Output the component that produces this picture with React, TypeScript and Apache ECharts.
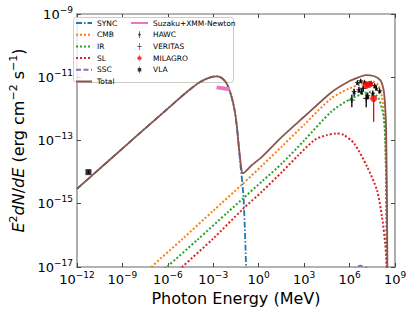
import React, { useEffect, useRef } from 'react';
import * as echarts from 'echarts';

// All curve points are [log10(E / MeV), log10(E^2 dN/dE / erg cm^-2 s^-1)]
const syncCurve: number[][] = [
  [-12, -14.53], [-10, -13.68], [-8, -12.83], [-6, -11.99], [-5, -11.57], [-4.5, -11.37],
  [-4, -11.19], [-3.5, -11.06], [-3.0, -10.98], [-2.7, -10.97], [-2.4, -11.04], [-2.13, -11.18],
  [-1.8, -11.6], [-1.59, -12.04], [-1.44, -12.56], [-1.31, -13.2], [-1.2, -13.8], [-1.08, -14.35],
  [-1.0, -14.8], [-0.93, -15.6], [-0.87, -16.4], [-0.82, -17.3],
];
const cmbCurve: number[][] = [
  [-8, -17.45], [-7.09, -17.0], [-5, -16.1], [-3, -15.22], [-1.05, -14.37], [0.25, -13.78],
  [1.545, -13.18], [3, -12.5], [4.79, -11.67], [6, -11.35], [7, -11.18], [7.59, -11.14],
  [7.9, -11.25], [8.14, -11.61], [8.3, -12.3], [8.38, -13.3], [8.43, -14.8], [8.47, -17.3],
];
const irCurve: number[][] = [
  [-7, -17.4], [-6.06, -17.0], [-4, -16.12], [-2, -15.25], [-1.05, -14.84], [0.25, -14.28],
  [1.545, -13.72], [3, -13.0], [4.79, -12.09], [6, -11.7], [6.95, -11.51], [7.38, -11.46],
  [7.92, -11.67], [8.25, -12.25], [8.36, -13.0], [8.42, -14.5], [8.46, -17.3],
];
const slCurve: number[][] = [
  [-6, -17.45], [-5.05, -17.0], [-3, -16.1], [-1.05, -15.17], [0.25, -14.6], [1.545, -13.99],
  [2.63, -13.46], [3.7, -12.98], [4.5, -12.83], [5.1, -12.78], [5.6, -12.82], [6.3, -13.09],
  [7.16, -13.83], [7.81, -14.57], [8.14, -15.41], [8.35, -16.25], [8.46, -17.0], [8.5, -17.5],
];
const sscCurve: number[][] = [
  [4.5, -18.3], [5.5, -17.5], [6.2, -17.1], [6.7, -16.96], [7.1, -17.02], [7.6, -17.4], [8.2, -18.3],
];
const totalCurve: number[][] = [
  [-12, -14.53], [-10, -13.68], [-8, -12.83], [-6, -11.99], [-5, -11.57], [-4.5, -11.37],
  [-4, -11.19], [-3.5, -11.06], [-3.0, -10.98], [-2.7, -10.97], [-2.4, -11.04], [-2.13, -11.18],
  [-1.8, -11.6], [-1.59, -12.04], [-1.44, -12.56], [-1.31, -13.2], [-1.16, -13.83], [-1.05, -14.04],
  [-0.5, -13.8], [0.25, -13.5], [1.545, -12.88], [3, -12.25], [4.79, -11.48], [6, -11.12],
  [6.6, -11.0], [7.05, -10.93], [7.6, -10.96], [8.03, -11.09], [8.2, -11.3], [8.28, -11.51],
  [8.36, -12.0], [8.41, -12.56], [8.44, -13.62], [8.47, -15.0], [8.5, -17.3],
];
const suzakuXmm: number[][] = [[-2.78, -11.32], [-1.91, -11.38]];

// Points: [log10 E, log10 flux, log10 lower, log10 upper]
const hawcPoints: number[][] = [
  [6.52, -11.17, -11.24, -11.1], [6.73, -11.12, -11.18, -11.06], [6.99, -11.16, -11.22, -11.1],
  [7.42, -11.19, -11.25, -11.13], [7.66, -11.27, -11.34, -11.2], [7.77, -11.35, -11.42, -11.28],
  [7.98, -11.43, -11.52, -11.35], [6.3, -11.46, -11.62, -11.36], [6.62, -11.4, -11.5, -11.3],
  [6.79, -11.46, -11.56, -11.37], [7.2, -11.59, -11.7, -11.48], [7.53, -11.51, -11.62, -11.42],
];
const veritasPoints: number[][] = [
  [6.15, -11.72, -11.95, -11.55], [7.1, -11.67, -11.95, -11.52], [6.9, -11.35, -11.45, -11.27],
];
const milagroPoints: number[][] = [
  [7.12, -11.25, -11.32, -11.18], [7.33, -11.22, -11.29, -11.15], [7.59, -11.67, -12.41, -11.55],
];
const vlaPoints: number[][] = [[-11.24, -14.0, -14.05, -13.95]];

const FONT = 'DejaVu Sans';
const toXY = (pts: number[][]) => pts.map((p) => [Math.pow(10, p[0]), Math.pow(10, p[1])]);
const toErr = (pts: number[][]) => pts.map((p) => [Math.pow(10, p[0]), Math.pow(10, p[2]), Math.pow(10, p[3])]);

function expLabel(v: number) {
  const e = Math.round(Math.log10(v));
  const s = e < 0 ? '\u2212' + Math.abs(e) : String(e);
  return `{b|10}{s|${s}}`;
}
const labelRich = {
  b: { fontSize: 13, fontFamily: FONT, color: '#000' },
  s: { fontSize: 9, fontFamily: FONT, color: '#000', padding: [0, 0, 9, 0] },
};

const spine = { color: '#9a9a9a', width: 1.6 };
const tick = { show: true, inside: true, length: 4, lineStyle: { color: '#444', width: 1 } };

function lineSeries(name: string, pts: number[][], color: string, type: any, width = 1.8) {
  return {
    name, type: 'line', data: toXY(pts), symbol: 'none', smooth: 0.25,
    lineStyle: { color, width, type, cap: 'butt' }, itemStyle: { color }, clip: true,
  };
}
function errSeries(pts: number[][], color: string) {
  return {
    type: 'custom', data: toErr(pts), encode: { x: 0, y: [1, 2] }, clip: true, z: 3,
    renderItem: (_p: any, api: any) => {
      const a = api.coord([api.value(0), api.value(1)]);
      const b = api.coord([api.value(0), api.value(2)]);
      return { type: 'line', shape: { x1: a[0], y1: a[1], x2: b[0], y2: b[1] }, style: { stroke: color, lineWidth: 1.3 } };
    },
  };
}
function scatter(name: string, pts: number[][], color: string, symbol: string, size: number) {
  return { name, type: 'scatter', data: toXY(pts), symbol, symbolSize: size, itemStyle: { color }, z: 4 };
}

const STAR = 'path://M50,0 L61,35 L98,35 L68,57 L79,91 L50,70 L21,91 L32,57 L2,35 L39,35Z';
const PLUS = 'path://M4,0H6V4H10V6H6V10H4V6H0V4H4Z';
const ICON_HAWC = 'path://M4.5,0H5.5V3L7,5L5.5,7V10H4.5V7L3,5L4.5,3Z';
const ICON_VER = 'path://M4.6,0H5.4V4.6H8V5.4H5.4V10H4.6V5.4H2V4.6H4.6Z';
const ICON_MIL = 'path://M4.6,0H5.4V2.2A2.8,2.8 0 0 1 5.4,7.8V10H4.6V7.8A2.8,2.8 0 0 1 4.6,2.2Z';
const ICON_VLA = 'path://M4.6,0H5.4V2.5H7.5V7.5H5.4V10H4.6V7.5H2.5V2.5H4.6Z';

export default function App() {
  const ref = useRef<HTMLDivElement>(null);
  useEffect(() => {
    if (!ref.current) return;
    const chart = echarts.init(ref.current, undefined, { renderer: 'svg' });
    const legendText = { fontFamily: FONT, fontSize: 7.5, color: '#000' };
    const xBase = {
      type: 'log', logBase: 10, min: 1e-12, max: 1e9, interval: 3,
      axisLine: { show: true, onZero: false, lineStyle: spine },
      axisTick: tick, splitLine: { show: false }, minorTick: { show: false },
    };
    const yBase = {
      type: 'log', logBase: 10, min: 1e-17, max: 1e-9, interval: 2,
      axisLine: { show: true, onZero: false, lineStyle: spine },
      axisTick: tick, splitLine: { show: false }, minorTick: { show: false },
    };
    const hideSym = { opacity: 0 };
    chart.setOption({
      animation: false,
      backgroundColor: '#fff',
      grid: { left: 71, right: 20, top: 14, bottom: 45 },
      xAxis: [
        {
          ...xBase, position: 'bottom',
          axisLabel: { formatter: expLabel, rich: labelRich, margin: 3 },
          name: 'Photon Energy (MeV)', nameLocation: 'middle', nameGap: 12,
          nameTextStyle: { fontFamily: FONT, fontSize: 16, color: '#000' },
        },
        { ...xBase, position: 'top', axisLabel: { show: false } },
      ],
      yAxis: [
        {
          ...yBase, position: 'left',
          axisLabel: { formatter: expLabel, rich: labelRich, margin: 4 },
          name: '{i|E}{s|2}{i|dN}/{i|dE} (erg cm{s|\u22122} s{s|\u22121})',
          nameLocation: 'middle', nameRotate: 90, nameGap: 43,
          nameTextStyle: {
            fontFamily: FONT, fontSize: 16, color: '#000',
            rich: {
              i: { fontFamily: FONT, fontSize: 16, fontStyle: 'italic', color: '#000' },
              s: { fontFamily: FONT, fontSize: 11, color: '#000', padding: [0, 0, 10, 0] },
            },
          },
        },
        { ...yBase, position: 'right', axisLabel: { show: false } },
      ],
      legend: [
        {
          left: 75, top: 19, orient: 'vertical', itemWidth: 16, itemHeight: 7, itemGap: 3.7,
          padding: 0, textStyle: legendText, itemStyle: hideSym,
          data: ['SYNC', 'CMB', 'IR', 'SL', 'SSC', 'Total'],
        },
        {
          left: 130, top: 19, orient: 'vertical', itemWidth: 17, itemHeight: 7, itemGap: 3.7,
          padding: 0, textStyle: legendText,
          data: [
            { name: 'Suzaku+XMM-Newton', itemStyle: hideSym },
            { name: 'HAWC', icon: ICON_HAWC },
            { name: 'VERITAS', icon: ICON_VER },
            { name: 'MILAGRO', icon: ICON_MIL },
            { name: 'VLA', icon: ICON_VLA },
          ],
        },
      ],
      graphic: [
        {
          type: 'rect', left: 73, top: 17, z: 3,
          shape: { width: 160, height: 65, r: 3 },
          style: { fill: 'rgba(255,255,255,0.8)', stroke: '#cccccc', lineWidth: 1 },
        },
      ],
      series: [
        lineSeries('SYNC', syncCurve, '#1f77b4', [6, 2, 1.5, 2]),
        lineSeries('CMB', cmbCurve, '#ff7f0e', [2, 2], 2),
        lineSeries('IR', irCurve, '#2ca02c', [2, 2], 2),
        lineSeries('SL', slCurve, '#d62728', [2, 2], 2),
        lineSeries('SSC', sscCurve, '#9467bd', [5, 2.5]),
        lineSeries('Total', totalCurve, '#8c564b', 'solid', 1.8),
        {
          name: 'Suzaku+XMM-Newton', type: 'line', data: toXY(suzakuXmm), symbol: 'none',
          lineStyle: { color: '#e377c2', width: 4, cap: 'butt' }, itemStyle: { color: '#e377c2' }, z: 3,
        },
        errSeries(hawcPoints, '#000'),
        errSeries(veritasPoints, '#000'),
        errSeries(milagroPoints, '#ff0000'),
        errSeries(vlaPoints, '#000'),
        scatter('HAWC', hawcPoints, '#000', STAR, 6),
        scatter('VERITAS', veritasPoints, '#000', PLUS, 6),
        scatter('MILAGRO', milagroPoints, '#ff0000', 'circle', 7),
        scatter('VLA', vlaPoints, '#000', 'rect', 6),
      ],
    } as any);
    return () => chart.dispose();
  }, []);
  return (
    <div
      ref={ref}
      style={{ position: 'absolute', left: 0, top: 0, width: 415, height: 312, overflow: 'hidden' }}
    />
  );
}
